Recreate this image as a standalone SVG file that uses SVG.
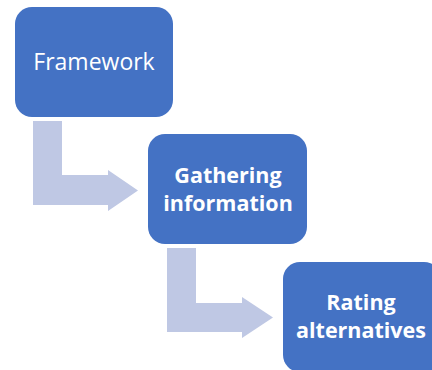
<svg xmlns="http://www.w3.org/2000/svg" width="432" height="370" viewBox="0 0 432 370">
<style>
.box{fill:#4472C4;}
.arr{fill:#BFC8E4;}
.t{fill:#fff;font-family:"Open Sans","Liberation Sans",sans-serif;text-anchor:middle;}
.b{font-weight:bold;font-size:21.5px;}
</style>
<rect width="432" height="370" fill="#fff"/>
<g id="connectors">
<path class="arr" d="M33,121 L62,121 L62,175 L108,175 L108,170 L138,190.5 L108,211 L108,205 L33,205 Z"/>
<path class="arr" d="M167,248 L196,248 L196,303 L242,303 L242,297 L273,317.5 L242,338 L242,332 L167,332 Z"/>
</g>
<g id="framework">
<rect class="box" x="15" y="7" width="158" height="110" rx="17"/>
<text class="t" x="94" y="70" font-size="23">Framework</text>
</g>
<g id="gathering">
<rect class="box" x="148" y="134" width="159" height="110" rx="17"/>
<text class="t b" x="228" y="183">Gathering</text>
<text class="t b" x="228" y="211">information</text>
</g>
<g id="rating">
<rect class="box" x="283" y="262" width="158" height="110" rx="17"/>
<text class="t b" x="361" y="310">Rating</text>
<text class="t b" x="361" y="338">alternatives</text>
</g>
</svg>
